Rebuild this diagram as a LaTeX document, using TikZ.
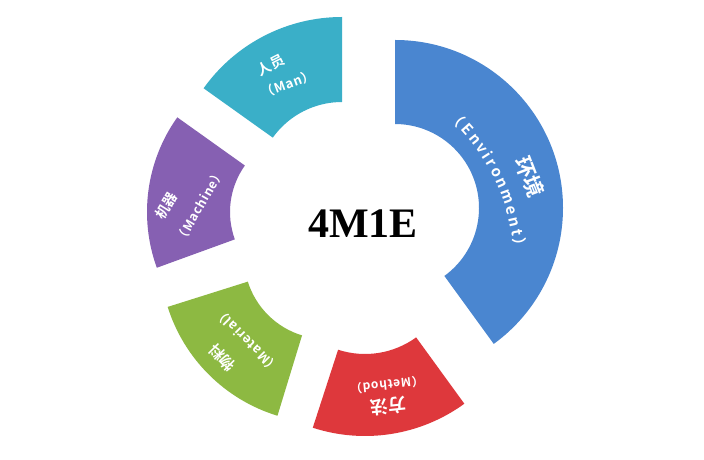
\documentclass[tikz,border=0pt]{standalone}
\usepackage{fontspec}
\setmainfont{Liberation Serif}
\newfontfamily\cjkfont{Noto Sans CJK SC Bold}
\newfontfamily\enfont{Noto Sans CJK SC Bold}[LetterSpace=6]
\usetikzlibrary{decorations.text}

\definecolor{mancol}{HTML}{3AAFC8}
\definecolor{machcol}{HTML}{8660B2}
\definecolor{matcol}{HTML}{8DB942}
\definecolor{methcol}{HTML}{DE383C}
\definecolor{envcol}{HTML}{4A86D0}

\begin{document}
\begin{tikzpicture}[x=1pt,y=1pt,
	cnlab/.style={text=white, inner sep=0pt, font=\cjkfont\fontsize{#1}{#1}\selectfont},
	enlab/.style={text=white, inner sep=0pt, font=\enfont\fontsize{#1}{#1}\selectfont}]
	\fill[white] (0,0) rectangle (704,460);
	\useasboundingbox (0,0) rectangle (704,460);
	
	% ring pieces
	\fill[mancol, shift={(342,273)}] (90:85pt) arc[start angle=90, end angle=144.5, radius=85pt] -- (144.5:170pt) arc[start angle=144.5, end angle=90, radius=170pt] -- cycle;
	\fill[machcol, shift={(310,248)}] (144.5:80pt) arc[start angle=144.5, end angle=200, radius=80pt] -- (200:163pt) arc[start angle=200, end angle=144.5, radius=163pt] -- cycle;
	\fill[matcol, shift={(326,203)}] (197.5:82pt) arc[start angle=197.5, end angle=253, radius=82pt] -- (253:166pt) arc[start angle=253, end angle=197.5, radius=166pt] -- cycle;
	\fill[methcol, shift={(365,193)}] (252:87pt) arc[start angle=252, end angle=306, radius=87pt] -- (306:169pt) arc[start angle=306, end angle=252, radius=169pt] -- cycle;
	\fill[envcol, shift={(395,252)}] (-54:84pt) arc[start angle=-54, end angle=90, radius=84pt] -- (90:168pt) arc[start angle=90, end angle=-54, radius=168pt] -- cycle;
	
	\node[cnlab=14, rotate=27] at (271,395) (renyu) {人员};
	\node[enlab=13, rotate=20] at (288,376) (manlab) {（Man）};
	\node[cnlab=14, rotate=58] at (166,254) (jiqi) {机器};
	\node[enlab=12.5, rotate=60] at (200,254) (machin) {（Machine）};
	\node[cnlab=15, rotate=135] at (222,102) (wuliao) {物料};
	\node[enlab=13, rotate=135] at (247,119) (materi) {（Material）};
	\node[cnlab=18, rotate=186] at (388,54) (fangfa) {方法};
	\node[enlab=12, rotate=186] at (387,75) (method) {（Method）};
	\node[cnlab=21, rotate=-69] at (530,283) (huanj) {环境};
	\path[decorate, decoration={text along path, text align=fit to path,
		text={|\enfont\fontsize{15}{15}\selectfont\color{white}|（Environment）}}]
		(312,192) ++(48:203pt) arc[start angle=48, end angle=4, radius=203pt];
	
	\node[font=\bfseries\fontsize{42}{42}\selectfont] at (363,236) (title) {4M1E};
\end{tikzpicture}
\end{document}
